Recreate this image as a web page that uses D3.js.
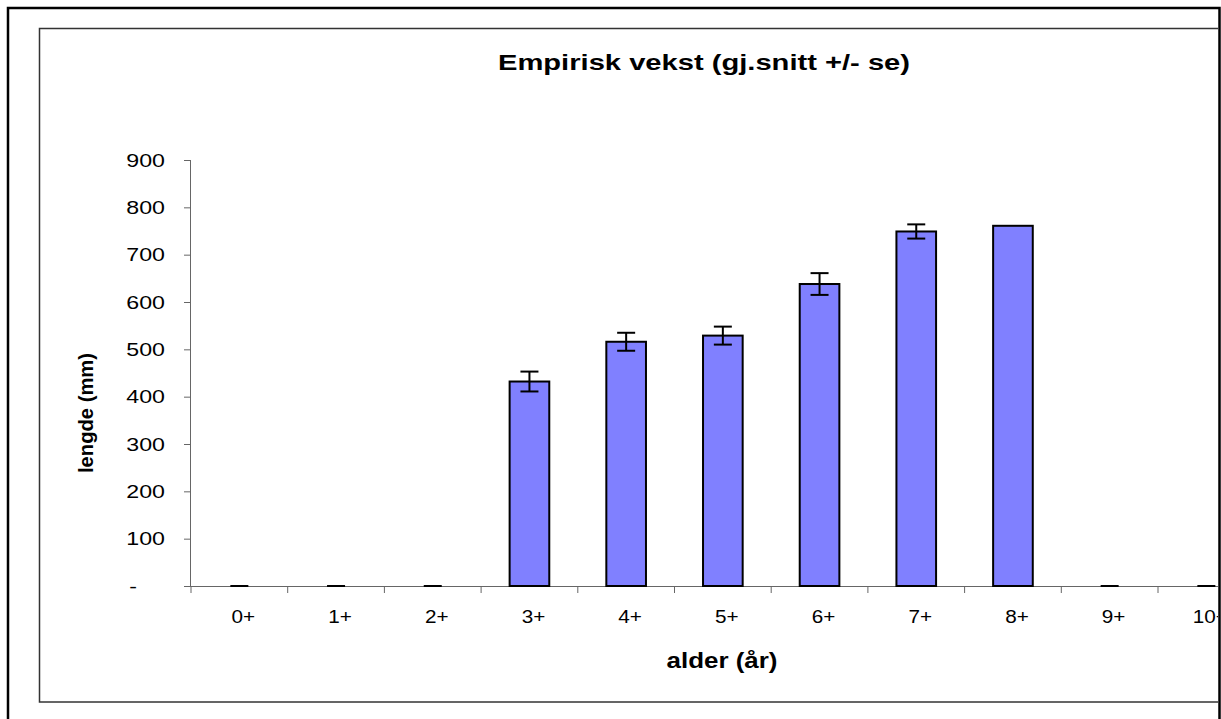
<!DOCTYPE html>
<html>
<head>
<meta charset="utf-8">
<script src="https://cdn.jsdelivr.net/npm/d3@7"></script>
<style>
  html, body { margin: 0; padding: 0; background: #fff; }
  svg { display: block; font-family: "Liberation Sans", Arial, sans-serif; }
</style>
</head>
<body>
<svg id="chart" width="1221" height="719"></svg>
<script>
// ---- data ----
const categories = ["0+", "1+", "2+", "3+", "4+", "5+", "6+", "7+", "8+", "9+", "10+"];
const meanLength = [0, 0, 0, 432, 516, 529, 638, 749, 761, 0, 0];
const stdErr     = [0, 0, 0, 21, 19, 19, 23, 15, 0, 0, 0];
const yTicks = [0, 100, 200, 300, 400, 500, 600, 700, 800, 900];
const titleText = "Empirisk vekst (gj.snitt +/- se)";
const xTitle = "alder (år)";
const yTitle = "lengde (mm)";

const data = categories.map((c, i) => ({ cat: c, v: meanLength[i], se: stdErr[i] }));

const svg = d3.select("#chart");

// clip to frame
svg.append("defs").append("clipPath").attr("id", "frameClip")
  .append("rect").attr("x", 0).attr("y", 0).attr("width", 1218).attr("height", 719);

const root = svg.append("g").attr("clip-path", "url(#frameClip)");

// inner chart area frame
root.append("rect")
  .attr("x", 39.5).attr("y", 28.5).attr("width", 1200).attr("height", 673.5)
  .attr("fill", "#fff").attr("stroke", "#333").attr("stroke-width", 1.5);

// scales
const plotLeft = 191, bandW = 96.7;
const x = d3.scaleBand().domain(categories)
  .range([plotLeft, plotLeft + bandW * categories.length]).padding(0);
const y = d3.scaleLinear().domain([0, 900]).range([586, 160]);
const barFrac = 0.41;
const capW = 18;

function stretch(sel, sx) {
  sel.each(function () {
    const w = this.getComputedTextLength();
    d3.select(this).attr("textLength", w * sx).attr("lengthAdjust", "spacingAndGlyphs");
  });
}

// y axis
const yAxis = root.append("g")
  .attr("transform", `translate(${plotLeft},0)`)
  .call(d3.axisLeft(y).tickValues(yTicks).tickSize(7).tickPadding(19)
    .tickFormat(d => d === 0 ? "-" : d3.format("d")(d)));
yAxis.select(".domain").attr("stroke", "#666").attr("d", `M-0.5,${y(900)}V${y(0)}`);
yAxis.selectAll(".tick line").attr("stroke", "#666");
yAxis.selectAll(".tick text")
  .attr("font-size", 19).attr("fill", "#000")
  .attr("font-family", '"Liberation Sans", Arial, sans-serif')
  .attr("dx", d => d === 0 ? -28 : 0);
stretch(yAxis.selectAll(".tick text"), 1.22);

// x axis
const xAxisG = root.append("g").attr("transform", `translate(0,${y(0)})`);
xAxisG.append("line")
  .attr("x1", plotLeft).attr("x2", plotLeft + bandW * categories.length)
  .attr("y1", 0.5).attr("y2", 0.5).attr("stroke", "#666");
const boundaries = categories.map(c => x(c)).concat([x(categories[categories.length - 1]) + x.bandwidth()]);
xAxisG.selectAll("line.xt").data(boundaries).join("line").attr("class", "xt")
  .attr("x1", d => d).attr("x2", d => d).attr("y1", 0).attr("y2", 7).attr("stroke", "#666");
const xLabels = xAxisG.selectAll("text.xl").data(categories).join("text").attr("class", "xl")
  .attr("x", d => x(d) + x.bandwidth() / 2 + 4).attr("y", 37)
  .attr("text-anchor", "middle").attr("font-size", 18).attr("fill", "#000")
  .text(d => d);
stretch(xLabels, 1.15);

// bars
root.append("g").selectAll("rect").data(data.filter(d => d.v > 0)).join("rect")
  .attr("x", d => x(d.cat) + x.bandwidth() * (1 - barFrac) / 2)
  .attr("width", x.bandwidth() * barFrac)
  .attr("y", d => y(d.v))
  .attr("height", d => y(0) - y(d.v))
  .attr("fill", "#8080FF").attr("stroke", "#000").attr("stroke-width", 2);

// error bars
const eg = root.append("g").attr("stroke", "#000").attr("stroke-width", 2).attr("fill", "none");
data.forEach(d => {
  const cx = x(d.cat) + x.bandwidth() / 2;
  const hi = y(d.v + d.se), lo = y(Math.max(0, d.v - d.se));
  if (d.se > 0) {
    eg.append("line").attr("x1", cx).attr("x2", cx).attr("y1", hi).attr("y2", lo);
    eg.append("line").attr("x1", cx - capW / 2).attr("x2", cx + capW / 2).attr("y1", hi).attr("y2", hi);
    eg.append("line").attr("x1", cx - capW / 2).attr("x2", cx + capW / 2).attr("y1", lo).attr("y2", lo);
  } else if (d.v === 0) {
    eg.append("line").attr("x1", cx - capW / 2).attr("x2", cx + capW / 2).attr("y1", y(0)).attr("y2", y(0));
  }
});

// titles
root.append("text").attr("x", 704).attr("y", 70).attr("text-anchor", "middle")
  .attr("font-size", 22).attr("font-weight", "bold").attr("fill", "#000")
  .attr("textLength", 412).attr("lengthAdjust", "spacingAndGlyphs")
  .text(titleText);

root.append("text").attr("x", 722).attr("y", 668).attr("text-anchor", "middle")
  .attr("font-size", 22).attr("font-weight", "bold").attr("fill", "#000")
  .attr("textLength", 111).attr("lengthAdjust", "spacingAndGlyphs")
  .text(xTitle);

root.append("text").attr("transform", "translate(93,413) rotate(-90)")
  .attr("text-anchor", "middle")
  .attr("font-size", 20).attr("font-weight", "bold").attr("fill", "#000")
  .attr("textLength", 120).attr("lengthAdjust", "spacingAndGlyphs")
  .text(yTitle);

// outer frame
svg.append("path")
  .attr("d", "M8,730V8H1219.5V730")
  .attr("fill", "none").attr("stroke", "#000").attr("stroke-width", 2.5);
</script>
</body>
</html>
